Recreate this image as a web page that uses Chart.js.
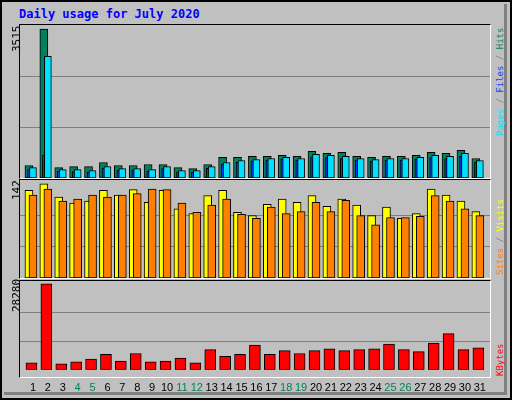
<!DOCTYPE html>
<html><head><meta charset="utf-8">
<script src="https://cdn.jsdelivr.net/npm/chart.js@4"></script>
<style>
html,body{margin:0;padding:0;}
#frame{position:absolute;left:0;top:0;width:508px;height:396px;background:#c0c0c0;border:2px solid #000;overflow:hidden;}
#shade{position:absolute;left:2px;top:2px;width:500px;height:388px;border-right:3px solid #808080;border-bottom:3px solid #808080;}
.panel{position:absolute;left:17px;width:470px;border-top:1px solid #000;border-left:1px solid #000;border-right:1px solid #fff;border-bottom:1px solid #fff;}
canvas{position:absolute;}
.t{position:absolute;font-family:"DejaVu Sans Mono",monospace;white-space:nowrap;}
.rot{transform-origin:0 0;transform:rotate(-90deg);}
</style></head><body>
<div id="frame"><div id="shade"></div>
<div class="t" style="left:17px;top:5px;color:#0000ff;font-weight:bold;font-size:12px;">Daily usage for July 2020</div>
<div class="panel" style="top:22px;height:153px;"></div>
<div class="panel" style="top:177px;height:98px;"></div>
<div class="panel" style="top:278px;height:96px;"></div>
<canvas id="c1" style="left:18px;top:23px;" width="470" height="153"></canvas>
<canvas id="c2" style="left:18px;top:178px;" width="470" height="98"></canvas>
<canvas id="c3" style="left:18px;top:279px;" width="470" height="118"></canvas>
<div class="t rot" style="left:8px;top:50px;font-size:11px;color:#000;">3515</div>
<div class="t rot" style="left:8px;top:198px;font-size:11px;color:#000;">142</div>
<div class="t rot" style="left:8px;top:310px;font-size:11px;color:#000;">28280</div>
<div class="t rot" style="left:493px;top:134px;font-size:9px;"><span style="color:#00e0ff">Pages</span> <span style="color:#808080">/</span> <span style="color:#0040ff">Files</span> <span style="color:#808080">/</span> <span style="color:#00805c">Hits</span></div>
<div class="t rot" style="left:493px;top:273px;font-size:9px;"><span style="color:#ff8000">Sites</span> <span style="color:#808080">/</span> <span style="color:#ffff00">Visits</span></div>
<div class="t rot" style="left:493px;top:374px;font-size:9px;color:#ff0000;">KBytes</div>
</div>
<script>
const days=[1,2,3,4,5,6,7,8,9,10,11,12,13,14,15,16,17,18,19,20,21,22,23,24,25,26,27,28,29,30,31];
const weekend=[4,5,11,12,18,19,25,26];
const hits=[294,3515,246,270,270,366,294,294,318,318,246,223,318,485,485,509,509,533,509,628,580,604,509,485,509,509,533,604,580,652,461];
const files=[200,533,160,150,140,230,180,190,160,220,140,140,230,330,370,400,420,440,420,500,480,460,420,400,420,420,440,480,460,520,370];
const pages=[246,2870,199,199,175,270,223,223,199,270,175,175,270,366,413,437,461,485,461,557,533,509,461,437,461,461,485,533,509,580,413];
const visits=[132,142,122,113,116,132,125,133,114,132,104,97,124,132,99,94,111,119,114,124,108,119,110,94,107,90,97,134,125,116,100];
const sites=[125,134,116,119,125,122,125,127,134,133,113,99,110,119,96,90,107,97,100,114,100,117,94,80,91,91,93,124,116,104,94];
const kbytes=[2270,28280,1960,2580,3510,5060,2890,5370,2580,2890,3820,2270,6610,4440,5060,8150,5060,6300,5370,6300,6920,6300,6610,6920,8460,6610,5990,8770,11870,6610,7220];
const XMIN=0.13,XMAX=31.68;
function ds(vals,off,color,w){return {data:vals.map((v,i)=>({x:days[i]+off,y:v})),backgroundColor:color,borderColor:'#000',borderWidth:1,barThickness:w,grouped:false,borderSkipped:false};}
function opts(ymax,showX){
  return {responsive:false,animation:false,events:[],layout:{padding:0},
    plugins:{legend:{display:false},tooltip:{enabled:false}},
    scales:{
      x:{type:'linear',offset:false,min:XMIN,max:XMAX,display:showX,grid:{display:false,offset:false},border:{display:false},
         afterBuildTicks:a=>{a.ticks=days.map(d=>({value:d}));},
         ticks:{autoSkip:false,maxRotation:0,padding:4,font:{family:'Liberation Sans',size:11},
           color:c=>weekend.includes(c.tick.value)?'#00805c':'#000',callback:v=>String(v)}},
      y:{min:0,max:ymax,display:true,border:{display:false},
         grid:{color:'#808080',lineWidth:1,drawTicks:false},
         afterBuildTicks:a=>{a.ticks=[{value:ymax/3},{value:2*ymax/3}];},
         afterFit:a=>{a.width=0;},ticks:{display:false}}
    }};
}
new Chart(document.getElementById('c1'),{type:'bar',data:{datasets:[
  ds(pages,0,'#00e0ff',7),ds(files,-0.13,'#0040ff',7),ds(hits,-0.27,'#00805c',8)]},options:opts(3610,false)});
const o2=opts(147.6,false);
o2.scales.y.afterBuildTicks=a=>{a.ticks=[{value:142/3},{value:284/3}];};
new Chart(document.getElementById('c2'),{type:'bar',data:{datasets:[
  ds(sites,0,'#ff8000',8),ds(visits,-0.27,'#ffff00',8)]},options:o2});
const o3=opts(29190,true);
o3.scales.y.afterBuildTicks=a=>{a.ticks=[{value:28280/3},{value:2*28280/3}];};
new Chart(document.getElementById('c3'),{type:'bar',data:{datasets:[
  ds(kbytes,-0.1,'#ff0000',11)]},options:o3});
</script>
</body></html>
